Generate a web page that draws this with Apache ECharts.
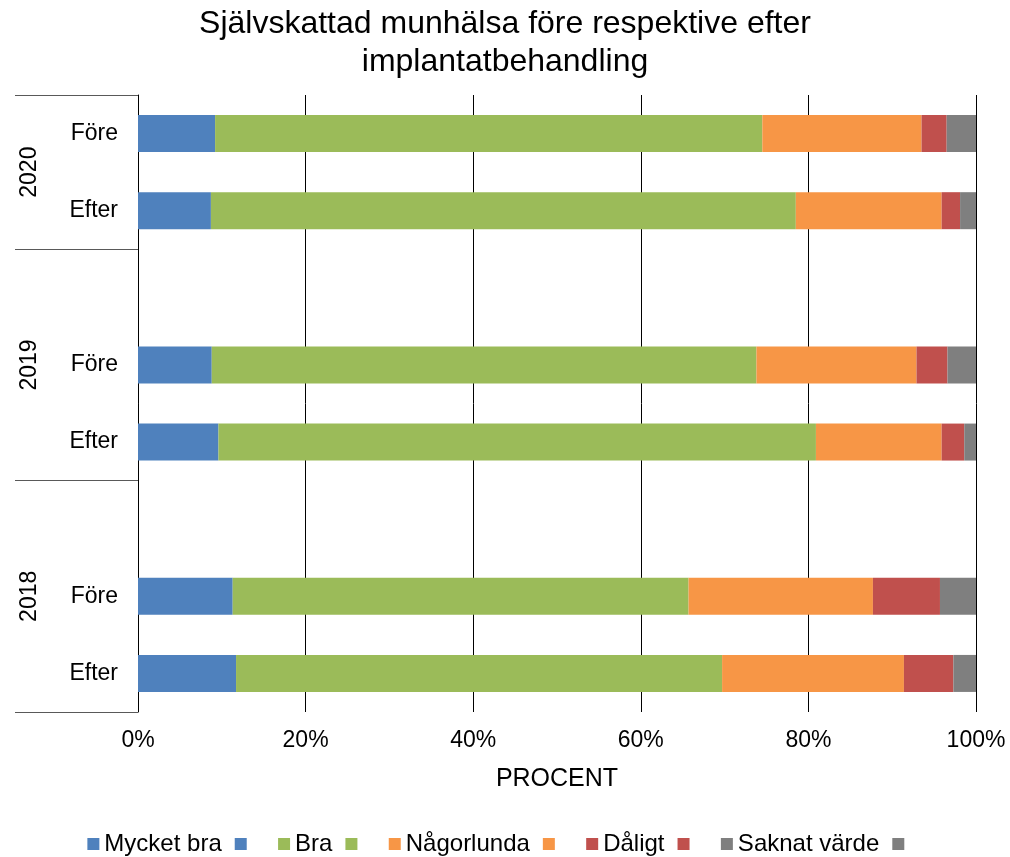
<!DOCTYPE html>
<html>
<head>
<meta charset="utf-8">
<title>Självskattad munhälsa</title>
<script src="https://cdn.jsdelivr.net/npm/echarts@6/dist/echarts.min.js"></script>
<style>
  html, body { margin: 0; padding: 0; background: #fff; }
  #chart { width: 1010px; height: 857px; }
</style>
</head>
<body>
<div id="chart"></div>
<script>
// rader uppifrån och ned, tom rad mellan åren
const rowKeys = ['2020 Före', '2020 Efter', '2019 tom', '2019 Före', '2019 Efter', '2018 tom', '2018 Före', '2018 Efter'];
const rowLabels = ['Före', 'Efter', '', 'Före', 'Efter', '', 'Före', 'Efter'];
const years = ['2020', '2019', '2018'];
const yearRows = [2, 3, 3]; // antal rader per år (inkl. tom rad)

const seriesNames = ['Mycket bra', 'Bra', 'Någorlunda', 'Dåligt', 'Saknat värde'];
const colors = ['#4F81BD', '#9BBB59', '#F79646', '#C0504D', '#7F7F7F'];

const mycketBra = [9.2, 8.7, null, 8.8, 9.6, null, 11.3, 11.7];
const bra = [65.3, 69.8, null, 65.0, 71.3, null, 54.4, 58.0];
const nagorlunda = [19.0, 17.4, null, 19.1, 15.0, null, 22.0, 21.7];
const daligt = [3.0, 2.2, null, 3.7, 2.7, null, 8.0, 5.9];
const saknat = [3.5, 1.9, null, 3.4, 1.4, null, 4.3, 2.7];

const xTicks = [0, 20, 40, 60, 80, 100];

const values = [mycketBra, bra, nagorlunda, daligt, saknat];

// gränser och mittpunkter för årsgrupperna
const yearBounds = [0];
const yearCenters = [];
yearRows.forEach((n, i) => {
  yearCenters.push(yearBounds[i] + n / 2);
  yearBounds.push(yearBounds[i] + n);
});
const totalRows = yearBounds[yearBounds.length - 1];

const font = "'Liberation Sans', Arial, sans-serif";

const series = [];
const legendData = [];
seriesNames.forEach((name, i) => {
  series.push({
    name: name,
    type: 'bar',
    stack: 'total',
    yAxisIndex: 0,
    barWidth: 37,
    itemStyle: { color: colors[i] },
    data: values[i].map(v => v === null ? '-' : v)
  });
  // extra legendruta (som i originalet)
  series.push({
    name: '_' + i,
    type: 'bar',
    stack: 'total',
    yAxisIndex: 0,
    itemStyle: { color: colors[i] },
    data: []
  });
  legendData.push(name, '_' + i);
});

const chart = echarts.init(document.getElementById('chart'));
chart.setOption({
  animation: false,
  textStyle: { fontFamily: font, color: '#000' },
  title: {
    text: 'Självskattad munhälsa före respektive efter\nimplantatbehandling',
    left: 'center',
    top: 0,
    textStyle: { fontFamily: font, fontSize: 32, fontWeight: 'normal', color: '#000', lineHeight: 38 }
  },
  legend: {
    data: legendData,
    bottom: -4,
    left: 'center',
    icon: 'rect',
    itemWidth: 12,
    itemHeight: 12,
    itemGap: 13,
    formatter: name => name.charAt(0) === '_' ? '  ' : name,
    textStyle: { fontFamily: font, fontSize: 24, color: '#000' }
  },
  grid: { left: 138, right: 34, top: 95, bottom: 145, containLabel: false },
  xAxis: {
    type: 'value',
    min: 0,
    max: 100,
    interval: 20,
    name: 'PROCENT',
    nameLocation: 'middle',
    nameGap: 55,
    nameTextStyle: { fontFamily: font, fontSize: 25, color: '#000' },
    axisLine: { show: false },
    axisTick: { show: false },
    axisLabel: { formatter: '{value}%', fontSize: 23, color: '#000', margin: 17, customValues: xTicks },
    splitLine: { show: true, lineStyle: { color: '#000', width: 1 } }
  },
  yAxis: [{
    type: 'category',
    inverse: true,
    data: rowKeys,
    axisLine: { show: true, lineStyle: { color: '#000', width: 1 } },
    axisTick: { show: false },
    axisLabel: {
      fontSize: 23,
      color: '#000',
      margin: 20,
      formatter: (v, i) => rowLabels[i]
    },
    splitLine: { show: false }
  }, {
    // årsgrupper till vänster
    type: 'value',
    min: 0,
    max: totalRows,
    inverse: true,
    position: 'left',
    offset: 123,
    axisLine: { show: false },
    splitLine: { show: false },
    axisTick: {
      show: true,
      inside: true,
      length: 123,
      customValues: yearBounds,
      lineStyle: { color: '#595959', width: 1 }
    },
    axisLabel: {
      show: true,
      inside: true,
      rotate: 90,
      margin: 3,
      fontSize: 23,
      color: '#000',
      customValues: yearCenters,
      formatter: v => years[yearCenters.indexOf(v)] || ''
    }
  }],
  series: series
});
</script>
</body>
</html>
